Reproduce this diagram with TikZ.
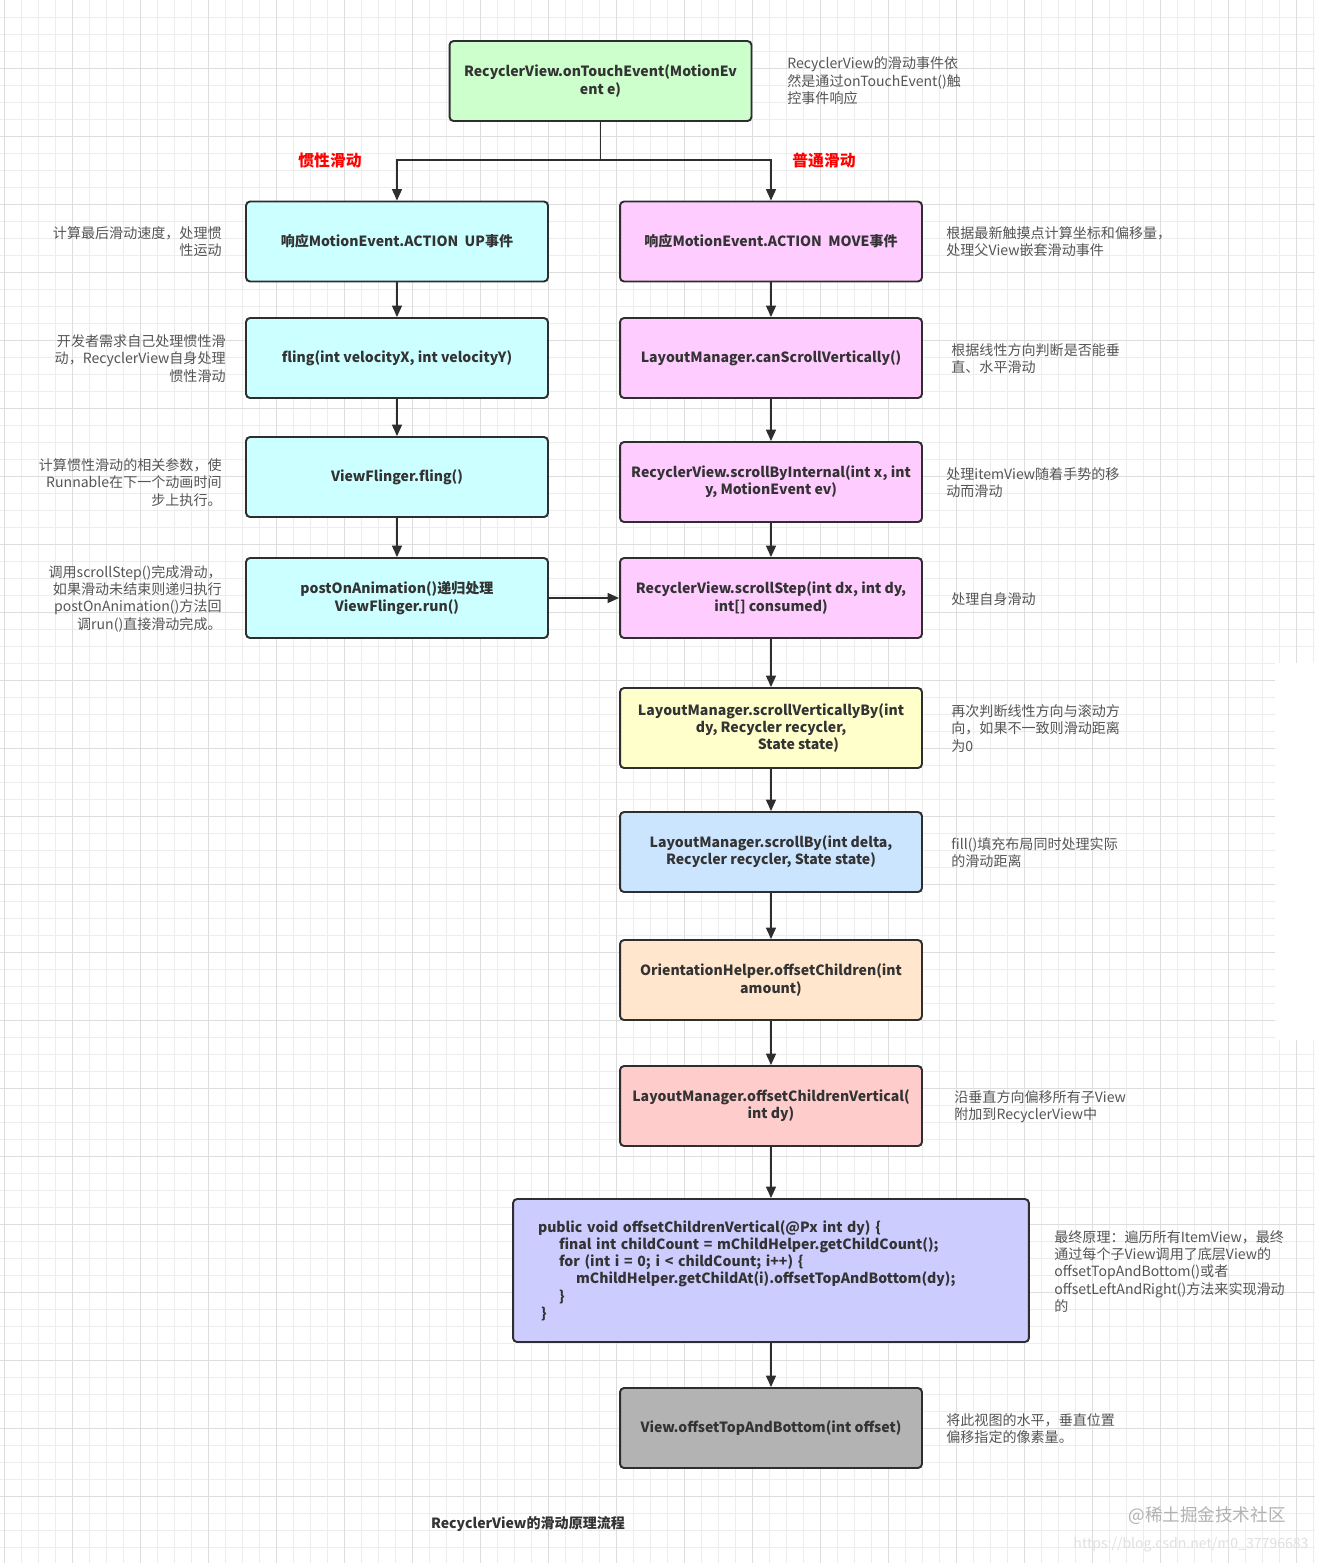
\documentclass[tikz,border=0pt]{standalone}
\usepackage{fontspec}
\setmainfont{Noto Sans CJK SC}
\usetikzlibrary{arrows.meta}

\definecolor{boxline}{HTML}{2E2E2E}
\definecolor{boxtext}{HTML}{333333}
\definecolor{notetext}{HTML}{555555}
\definecolor{gridlo}{HTML}{EDEDED}
\definecolor{gridhi}{HTML}{DDDDDD}
\definecolor{greenbox}{HTML}{CCFFCC}
\definecolor{cyanbox}{HTML}{CCFFFF}
\definecolor{pinkbox}{HTML}{FFCCFF}
\definecolor{yellowbox}{HTML}{FFFFCC}
\definecolor{bluebox}{HTML}{CCE5FF}
\definecolor{peachbox}{HTML}{FFE6CC}
\definecolor{rosebox}{HTML}{FFCCCC}
\definecolor{lilacbox}{HTML}{CCCCFF}
\definecolor{graybox}{HTML}{B3B3B3}

\begin{document}
\begin{tikzpicture}[x=0.02cm, y=-0.02cm,
    box/.style={draw=boxline, line width=1.1pt, rounded corners=2.3pt,
      minimum width=6.04cm, minimum height=1.6cm, align=center, inner sep=2pt,
      text=boxtext, font=\bfseries\fontsize{8}{9.8}\selectfont},
    note/.style={inner sep=0pt, text=notetext, font=\fontsize{8}{9.9}\selectfont},
    branch/.style={inner sep=0pt, text=red, font=\bfseries\fontsize{9}{11}\selectfont},
    flow/.style={draw=boxline, line width=1.1pt, -{Triangle[length=6.5pt,width=5.6pt]}},
    gridminor/.style={draw=gridlo, line width=0.5pt},
    gridmajor/.style={draw=gridhi, line width=0.5pt}]
    \useasboundingbox[fill=white] (0,0) rectangle (1324,1563);

    % background grid
    \foreach \i in {0,...,77}
        \draw[gridminor] ({4.3+17*\i},0) -- ({4.3+17*\i},1563);
    \foreach \j in {1,...,91}
        \draw[gridminor] (0,{17*\j}) -- (1315,{17*\j});
    \foreach \i in {0,...,19}
        \draw[gridmajor] ({4.3+68*\i},0) -- ({4.3+68*\i},1563);
    \foreach \j in {1,...,22}
        \draw[gridmajor] (0,{68*\j}) -- (1315,{68*\j});
    \fill[white] (1275,663) rectangle (1324,1040);

    % entry
    \node[box, fill=greenbox] (touch) at (600.5,81) {RecyclerView.onTouchEvent(MotionEv\\ent e)};

    % fling column
    \node[box, fill=cyanbox] (up) at (397,241.5) {响应MotionEvent.ACTION\ \ UP事件};
    \node[box, fill=cyanbox] (fling) at (397,358) {fling(int velocityX, int velocityY)};
    \node[box, fill=cyanbox] (vfling) at (397,477) {ViewFlinger.fling()};
    \node[box, fill=cyanbox] (post) at (397,598) {postOnAnimation()递归处理\\ViewFlinger.run()};

    % move column
    \node[box, fill=pinkbox] (move) at (771,241.5) {响应MotionEvent.ACTION\ \ MOVE事件};
    \node[box, fill=pinkbox] (canscroll) at (771,358) {LayoutManager.canScrollVertically()};
    \node[box, fill=pinkbox] (internal) at (771,482) {RecyclerView.scrollByInternal(int x, int\\y, MotionEvent ev)};
    \node[box, fill=pinkbox] (scrollstep) at (771,598) {RecyclerView.scrollStep(int dx, int dy,\\int[] consumed)};
    \node[box, fill=yellowbox] (vertby) at (771,728) {LayoutManager.scrollVerticallyBy(int\\dy, Recycler recycler,\\\hspace*{1.1cm}State state)};
    \node[box, fill=bluebox] (scrollby) at (771,852) {LayoutManager.scrollBy(int delta,\\Recycler recycler, State state)};
    \node[box, fill=peachbox] (orient) at (771,980) {OrientationHelper.offsetChildren(int\\amount)};
    \node[box, fill=rosebox] (offsetv) at (771,1106) {LayoutManager.offsetChildrenVertical(\\int dy)};
    \node[box, fill=lilacbox, minimum height=2.86cm, text width=9.32cm, inner xsep=0.5cm, align=left] (code) at (771,1270.5)
        {public void offsetChildrenVertical(@Px int dy) \{\\
         \hspace*{0.42cm}final int childCount = mChildHelper.getChildCount();\\
         \hspace*{0.42cm}for (int i = 0; i < childCount; i++) \{\\
         \hspace*{0.76cm}mChildHelper.getChildAt(i).offsetTopAndBottom(dy);\\
         \hspace*{0.42cm}\}\\
         \hspace*{0.06cm}\}};
    \node[box, fill=graybox] (viewoff) at (771,1428) {View.offsetTopAndBottom(int offset)};

    % connectors
    \coordinate (split) at (600.5,160);
    \draw[draw=boxline, line width=1.1pt] (touch) -- (split);
    \draw[flow] (split) -| (up);
    \draw[flow] (split) -| (move);
    \draw[flow] (up) -- (fling);
    \draw[flow] (fling) -- (vfling);
    \draw[flow] (vfling) -- (post);
    \draw[flow] (post) -- (scrollstep);
    \draw[flow] (move) -- (canscroll);
    \draw[flow] (canscroll) -- (internal);
    \draw[flow] (internal) -- (scrollstep);
    \draw[flow] (scrollstep) -- (vertby);
    \draw[flow] (vertby) -- (scrollby);
    \draw[flow] (scrollby) -- (orient);
    \draw[flow] (orient) -- (offsetv);
    \draw[flow] (offsetv) -- (code);
    \draw[flow] (code) -- (viewoff);

    \node[branch] (lblfling) at (330,160) {惯性滑动};
    \node[branch] (lblmove) at (824,160) {普通滑动};

    % notes
    \node[note, anchor=west, align=left] (ntouch) at (787,81) {RecyclerView的滑动事件依\\然是通过onTouchEvent()触\\控事件响应};
    \node[note, anchor=east, align=right] (nup) at (222,241.5) {计算最后滑动速度，处理惯\\性运动};
    \node[note, anchor=east, align=right] (nfling) at (226,358.5) {开发者需求自己处理惯性滑\\动，RecyclerView自身处理\\惯性滑动};
    \node[note, anchor=east, align=right] (nvfling) at (222,482.5) {计算惯性滑动的相关参数，使\\Runnable在下一个动画时间\\步上执行。};
    \node[note, anchor=east, align=right] (npost) at (222,598.5) {调用scrollStep()完成滑动，\\如果滑动未结束则递归执行\\postOnAnimation()方法回\\调run()直接滑动完成。};
    \node[note, anchor=west, align=left] (nmove) at (946,241.5) {根据最新触摸点计算坐标和偏移量，\\处理父View嵌套滑动事件};
    \node[note, anchor=west, align=left] (ncan) at (951,358.5) {根据线性方向判断是否能垂\\直、水平滑动};
    \node[note, anchor=west, align=left] (ninternal) at (946,482.5) {处理itemView随着手势的移\\动而滑动};
    \node[note, anchor=west, align=left] (nstep) at (951,599) {处理自身滑动};
    \node[note, anchor=west, align=left] (nvertby) at (951,728.5) {再次判断线性方向与滚动方\\向，如果不一致则滑动距离\\为0};
    \node[note, anchor=west, align=left] (nscrollby) at (951,852.5) {fill()填充布局同时处理实际\\的滑动距离};
    \node[note, anchor=west, align=left] (noffsetv) at (954,1106.5) {沿垂直方向偏移所有子View\\附加到RecyclerView中};
    \node[note, anchor=west, align=left] (ncode) at (1054,1271.5) {最终原理：遍历所有ItemView，最终\\通过每个子View调用了底层View的\\offsetTopAndBottom()或者\\offsetLeftAndRight()方法来实现滑动\\的};
    \node[note, anchor=west, align=left] (nviewoff) at (946,1428.5) {将此视图的水平，垂直位置\\偏移指定的像素量。};

    % caption and marks
    \node[inner sep=0pt, text=boxtext, font=\bfseries\fontsize{8}{9.8}\selectfont] (caption) at (528,1524) {RecyclerView的滑动原理流程};
    \node[inner sep=0pt, text=black!30, font=\fontsize{10}{12}\selectfont] (wmark) at (1207,1516) {@稀土掘金技术社区};
    \node[inner sep=0pt, text=black!12, font=\fontsize{8}{10}\selectfont] (wurl) at (1191,1545) {https://blog.csdn.net/m0\_37796683};
\end{tikzpicture}
\end{document}
